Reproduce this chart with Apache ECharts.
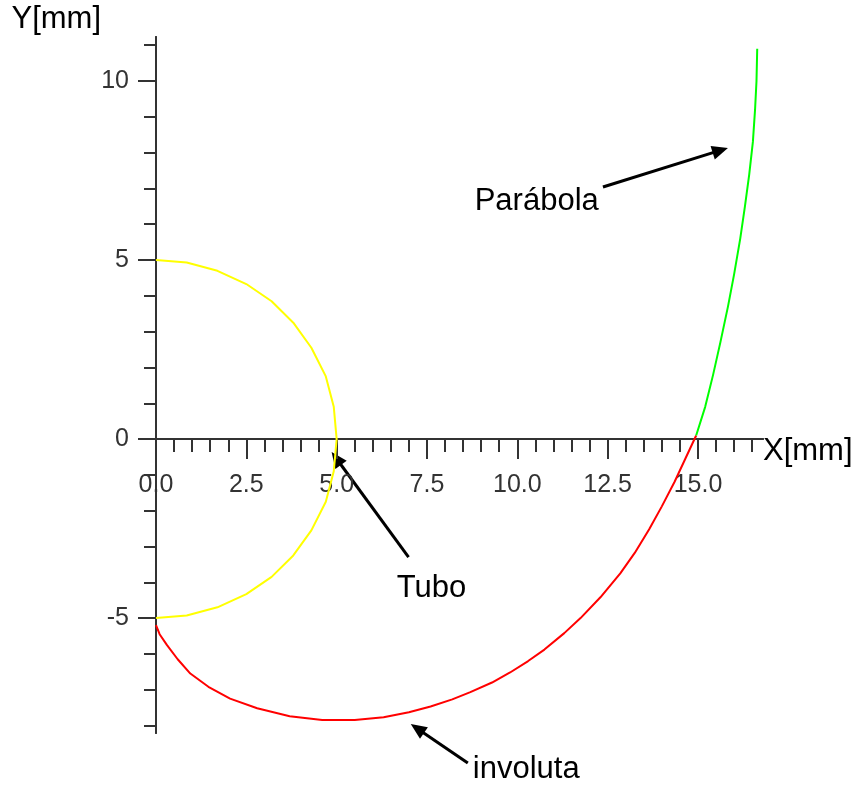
<!DOCTYPE html>
<html>
<head>
<meta charset="utf-8">
<script src="https://cdn.jsdelivr.net/npm/echarts@6.0.0/dist/echarts.min.js"></script>
<style>
  html, body { margin: 0; padding: 0; background: #fff; }
  #chart { width: 857px; height: 786px; }
</style>
</head>
<body>
<div id="chart"></div>
<script>
// curves, [x, y] in mm
const tuboPts = [
  [0, 5], [0.85, 4.93], [1.7, 4.7], [2.5, 4.33], [3.2, 3.85], [3.8, 3.25],
  [4.3, 2.55], [4.7, 1.75], [4.92, 0.9], [5, 0], [4.92, -0.9], [4.7, -1.75],
  [4.3, -2.55], [3.8, -3.25], [3.2, -3.85], [2.5, -4.33], [1.7, -4.7],
  [0.85, -4.93], [0, -5]
];
const involutaPts = [
  [0, -5.2], [0.1, -5.45], [0.3, -5.75], [0.6, -6.15], [0.95, -6.55],
  [1.45, -6.92], [2.05, -7.25], [2.8, -7.52], [3.7, -7.74], [4.6, -7.85],
  [5.5, -7.85], [6.3, -7.77], [7.0, -7.63], [7.6, -7.47], [8.2, -7.27],
  [8.7, -7.07], [9.3, -6.8], [9.8, -6.52], [10.3, -6.2], [10.75, -5.88],
  [11.3, -5.42], [11.75, -5.0], [12.3, -4.42], [12.85, -3.75], [13.25, -3.18],
  [13.65, -2.52], [14.0, -1.88], [14.35, -1.2], [14.65, -0.55], [14.95, 0.1]
];
const parabolaPts = [
  [14.95, 0.1], [15.2, 0.9], [15.42, 1.8], [15.62, 2.7], [15.83, 3.7],
  [16.0, 4.6], [16.17, 5.6], [16.3, 6.5], [16.42, 7.4], [16.52, 8.3],
  [16.58, 9.2], [16.62, 10.0], [16.64, 10.9]
];

// ticks
const xMajorTicks = [0, 2.5, 5, 7.5, 10, 12.5, 15];
const xMinorTicks = [0.5, 1, 1.5, 2, 3, 3.5, 4, 4.5, 5.5, 6, 6.5, 7, 8, 8.5, 9, 9.5,
  10.5, 11, 11.5, 12, 13, 13.5, 14, 14.5, 15.5, 16, 16.5];
const yMajorTicks = [-5, 0, 5, 10];
const yMinorTicks = [-8, -7, -6, -4, -3, -2, -1, 1, 2, 3, 4, 6, 7, 8, 9, 11];

// annotations (data coords)
const labelTexts = [
  { text: 'Y[mm]', at: [-4.0, 11.73] },
  { text: 'X[mm]', at: [16.8, -0.36] },
  { text: 'Parábola', at: [8.82, 6.65] },
  { text: 'Tubo', at: [6.66, -4.16] },
  { text: 'involuta', at: [8.77, -9.22] }
];
const arrows = [
  { from: [12.37, 7.04], to: [15.83, 8.13] },
  { from: [6.99, -3.30], to: [4.86, -0.36] },
  { from: [8.63, -9.05], to: [7.05, -7.96] }
];

const AXIS_COLOR = '#333';
const X_MIN = 0, X_MAX = 16.8, Y_MIN = -8.21, Y_MAX = 11.23;
const GRID = { left: 156, right: 94, top: 37, bottom: 53 };
const CHART_H = 786;

// x axis sits on y = 0: shift it up from the grid bottom
const plotH = CHART_H - GRID.top - GRID.bottom;
const zeroFromBottom = plotH * (0 - Y_MIN) / (Y_MAX - Y_MIN);

const chart = echarts.init(document.getElementById('chart'));

function xAxisDef(ticks, len, withLabels) {
  return {
    type: 'value', min: X_MIN, max: X_MAX, position: 'bottom',
    offset: -zeroFromBottom,
    axisLine: { onZero: false, lineStyle: { color: AXIS_COLOR, width: 2 } },
    axisTick: { show: true, customValues: ticks, length: len, lineStyle: { color: AXIS_COLOR, width: 2 } },
    axisLabel: {
      show: withLabels, customValues: ticks, margin: 34,
      color: AXIS_COLOR, fontSize: 25, fontFamily: 'Liberation Sans',
      formatter: v => v.toFixed(1)
    },
    splitLine: { show: false }
  };
}
function yAxisDef(ticks, len, withLabels) {
  return {
    type: 'value', min: Y_MIN, max: Y_MAX, position: 'left',
    axisLine: { onZero: false, lineStyle: { color: AXIS_COLOR, width: 2 } },
    axisTick: { show: true, customValues: ticks, length: len, lineStyle: { color: AXIS_COLOR, width: 2 } },
    axisLabel: {
      show: withLabels, customValues: ticks, margin: 27,
      color: AXIS_COLOR, fontSize: 25, fontFamily: 'Liberation Sans',
      formatter: v => String(v)
    },
    splitLine: { show: false }
  };
}

const option = {
  animation: false,
  backgroundColor: '#fff',
  grid: Object.assign({ containLabel: false }, GRID),
  xAxis: [xAxisDef(xMajorTicks, 20, true), xAxisDef(xMinorTicks, 13, false)],
  yAxis: [yAxisDef(yMajorTicks, 18, true), yAxisDef(yMinorTicks, 12, false)],
  series: [
    { name: 'Tubo', type: 'line', data: tuboPts, showSymbol: false, clip: false,
      lineStyle: { color: '#ffff00', width: 2 } },
    { name: 'involuta', type: 'line', data: involutaPts, showSymbol: false, clip: false,
      lineStyle: { color: '#ff0000', width: 2 } },
    { name: 'Parábola', type: 'line', data: parabolaPts, showSymbol: false, clip: false,
      lineStyle: { color: '#00ff00', width: 2 } }
  ]
};
chart.setOption(option);

// arrows + texts placed through the chart's own scales
const toPx = p => chart.convertToPixel({ seriesIndex: 0 }, p);
const graphics = [];
arrows.forEach(a => {
  const p0 = toPx(a.from), p1 = toPx(a.to);
  const dx = p1[0] - p0[0], dy = p1[1] - p0[1];
  const d = Math.sqrt(dx * dx + dy * dy);
  const ux = dx / d, uy = dy / d;
  const headLen = 16, headW = 7;
  const bx = p1[0] - ux * headLen, by = p1[1] - uy * headLen;
  graphics.push({
    type: 'line',
    shape: { x1: p0[0], y1: p0[1], x2: bx + ux * 2, y2: by + uy * 2 },
    style: { stroke: '#000', lineWidth: 3 }
  });
  graphics.push({
    type: 'polygon',
    shape: { points: [[p1[0], p1[1]], [bx - uy * headW, by + ux * headW], [bx + uy * headW, by - ux * headW]] },
    style: { fill: '#000' }
  });
});
labelTexts.forEach(t => {
  const p = toPx(t.at);
  graphics.push({
    type: 'text', x: p[0], y: p[1],
    style: { text: t.text, fill: '#000', fontSize: 31, fontFamily: 'Liberation Sans',
      align: 'left', verticalAlign: 'middle' }
  });
});
chart.setOption({ graphic: graphics });

window.addEventListener('resize', () => chart.resize());
</script>
</body>
</html>
